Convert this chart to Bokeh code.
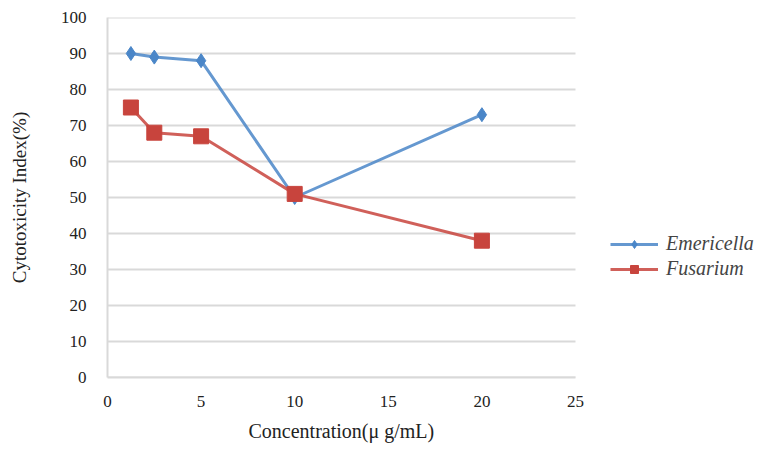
from bokeh.plotting import figure
from bokeh.models import Range1d, Legend, LegendItem, FixedTicker, Title
from bokeh.embed import file_html
from bokeh.resources import INLINE

conc = [1.25, 2.5, 5, 10, 20]
emericella = [90, 89, 88, 50, 73]
fusarium = [75, 68, 67, 51, 38]
x_ticks = [0, 5, 10, 15, 20, 25]
y_ticks = [0, 10, 20, 30, 40, 50, 60, 70, 80, 90, 100]

FONT = "serif"
BLUE = "#4a86c8"
RED = "#c8443d"
GRID = "#d9d9d9"

W, H = 766, 453
LEFT, RIGHT, TOP, BOTTOM = 107, 0, 17, 76
plot_w = 468  # pixel width of the 0..25 data span
frame_w = W - LEFT - RIGHT
x_end = x_ticks[-1] * frame_w / plot_w

p = figure(width=W, height=H, output_backend="svg", toolbar_location=None,
           x_range=Range1d(0, x_end), y_range=Range1d(0, 100),
           min_border_left=LEFT, min_border_right=RIGHT, min_border_top=TOP,
           min_border_bottom=BOTTOM)
p.outline_line_color = None
p.xgrid.grid_line_color = None
p.ygrid.grid_line_color = None

# horizontal gridlines spanning only the 0..25 axis extent
p.segment(x0=[x_ticks[0]] * len(y_ticks), x1=[x_ticks[-1]] * len(y_ticks),
          y0=y_ticks, y1=y_ticks, line_color=GRID, line_width=2)

p.xaxis.ticker = FixedTicker(ticks=x_ticks)
p.yaxis.ticker = FixedTicker(ticks=y_ticks)
p.xaxis.bounds = (x_ticks[0], x_ticks[-1])
for ax in (p.xaxis[0], p.yaxis[0]):
    ax.major_tick_line_color = None
    ax.minor_tick_line_color = None
    ax.major_label_text_font = FONT
    ax.major_label_text_font_size = "17px"
    ax.major_label_text_color = "#222222"
    ax.axis_label_text_font = FONT
    ax.axis_label_text_font_size = "19px"
    ax.axis_label_text_font_style = "normal"
    ax.axis_label_text_color = "#222222"
p.xaxis.axis_line_color = GRID
p.xaxis.axis_line_width = 2
p.yaxis.axis_line_color = GRID
p.yaxis.axis_line_width = 2
p.xaxis.major_label_standoff = 12
p.yaxis.major_label_standoff = 15
p.yaxis.axis_label = "Cytotoxicity Index(%)"
p.yaxis.axis_label_standoff = 28

xtitle = Title(text="Concentration(\u03bc g/mL)", align="left", offset=141,
               text_font=FONT, text_font_size="20px", text_font_style="normal",
               text_color="#222222", standoff=16)
p.add_layout(xtitle, "below")

l1 = p.line(conc, emericella, line_color=BLUE, line_width=3, line_alpha=0.85)
m1 = p.scatter(conc, emericella, marker="diamond", size=14, fill_color=BLUE, line_color=BLUE)
l2 = p.line(conc, fusarium, line_color=RED, line_width=3, line_alpha=0.85)
m2 = p.scatter(conc, fusarium, marker="square", size=15, fill_color=RED, line_color=RED)

legend = Legend(items=[LegendItem(label="Emericella", renderers=[l1, m1]),
                       LegendItem(label="Fusarium", renderers=[l2, m2])],
                location=(503, 97), border_line_color=None, background_fill_alpha=0,
                label_text_font=FONT, label_text_font_style="italic",
                label_text_font_size="20px", glyph_width=48, spacing=2,
                label_standoff=8)
p.add_layout(legend, "center")

open("out.html", "w").write(file_html(p, INLINE))
